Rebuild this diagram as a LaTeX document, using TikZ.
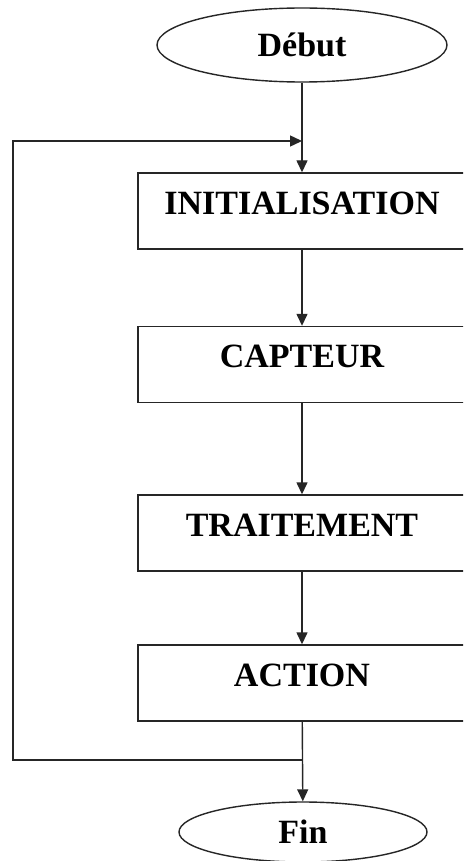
\documentclass[tikz,border=0pt]{standalone}
\usepackage{fontspec}
\setmainfont{Liberation Serif}
\usetikzlibrary{shapes.geometric,arrows.meta}
\begin{document}
\begin{tikzpicture}[x=1pt,y=-1pt,
  line/.style={draw=black!85,line width=1.4pt},
  arr/.style={line,-{Triangle[length=12pt,width=11pt]}},
  term/.style={ellipse,line,inner sep=0pt,font=\bfseries\fontsize{34}{34}\selectfont},
  stepbox/.style={rectangle,line,minimum width=328pt,minimum height=76pt,inner sep=0pt,
    text height=23pt,text depth=17pt,font=\bfseries\fontsize{34}{34}\selectfont}]
\useasboundingbox (0,0) rectangle (463,861);
\clip (0,0) rectangle (463,861);
\fill[white] (0,0) rectangle (463,861);

% start and end
\node[term,minimum width=290pt,minimum height=74pt] (debut) at (302,45) {Début};
\node[term,minimum width=248pt,minimum height=60pt] (fin) at (303,832) {Fin};

% processing steps
\node[stepbox] (init) at (302,211) {INITIALISATION};
\node[stepbox] (capt) at (302,364.5) {CAPTEUR};
\node[stepbox] (trait) at (302,533) {TRAITEMENT};
\node[stepbox] (act) at (302,683) {ACTION};

% main flow
\draw[arr] (debut) -- (init);
\draw[arr] (init) -- (capt);
\draw[arr] (capt) -- (trait);
\draw[arr] (trait) -- (act);
\draw[arr] (act) -- (fin);

% feedback loop back to the start
\coordinate (j) at (302,760);
\coordinate (loopL) at (13,760);
\coordinate (loopT) at (13,141);
\coordinate (m) at (302,141);
\draw[arr] (j) -- (loopL) -- (loopT) -- (m);
\end{tikzpicture}
\end{document}
